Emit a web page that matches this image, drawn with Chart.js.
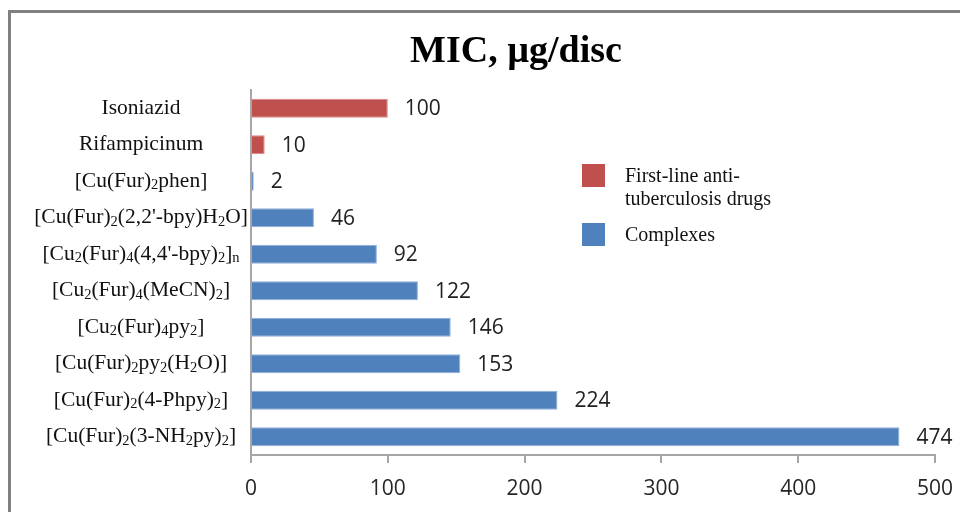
<!DOCTYPE html>
<html>
<head>
<meta charset="utf-8">
<script src="https://cdn.jsdelivr.net/npm/chart.js@4.4.1/dist/chart.umd.min.js"></script>
<style>
  html, body { margin: 0; padding: 0; background: #fff; }
  #wrap { width: 960px; height: 512px; position: relative; }
</style>
</head>
<body>
<div id="wrap"><canvas id="chart"></canvas></div>
<script>
// categories, top to bottom; _{..} marks a subscript
const categories = [
  'Isoniazid',
  'Rifampicinum',
  '[Cu(Fur)_{2}phen]',
  "[Cu(Fur)_{2}(2,2'-bpy)H_{2}O]",
  "[Cu_{2}(Fur)_{4}(4,4'-bpy)_{2}]_{n}",
  '[Cu_{2}(Fur)_{4}(MeCN)_{2}]',
  '[Cu_{2}(Fur)_{4}py_{2}]',
  '[Cu(Fur)_{2}py_{2}(H_{2}O)]',
  '[Cu(Fur)_{2}(4-Phpy)_{2}]',
  '[Cu(Fur)_{2}(3-NH_{2}py)_{2}]'
];
const drugValues = [100, 10, null, null, null, null, null, null, null, null];
const complexValues = [null, null, 2, 46, 92, 122, 146, 153, 224, 474];
const seriesNames = [['First-line anti-', 'tuberculosis drugs'], ['Complexes']];
const seriesColors = ['#C0504D', '#4F81BD'];
const xTicks = [0, 100, 200, 300, 400, 500];
const titleText = 'MIC, \u00b5g/disc';

const SERIF = '"Liberation Serif", "Times New Roman", serif';
const SANS = '"Open Sans", "DejaVu Sans", sans-serif';

// split "abc_{2}d" into [{t:'abc',sub:false},{t:'2',sub:true},{t:'d',sub:false}]
function parseLabel(s) {
  const parts = [];
  const re = /_\{([^}]*)\}/g;
  let last = 0, m;
  while ((m = re.exec(s)) !== null) {
    if (m.index > last) parts.push({ t: s.slice(last, m.index), sub: false });
    parts.push({ t: m[1], sub: true });
    last = re.lastIndex;
  }
  if (last < s.length) parts.push({ t: s.slice(last), sub: false });
  return parts;
}

const decorPlugin = {
  id: 'decor',
  beforeDraw(chart) {
    const ctx = chart.ctx;
    ctx.save();
    // outer frame (only left and top edges are visible)
    ctx.strokeStyle = '#808080';
    ctx.lineWidth = 3;
    ctx.beginPath();
    ctx.moveTo(9.5, 512);
    ctx.lineTo(9.5, 11.5);
    ctx.lineTo(960, 11.5);
    ctx.stroke();
    ctx.restore();
  },
  afterDraw(chart) {
    const ctx = chart.ctx;
    const yScale = chart.scales.y;
    ctx.save();

    // title
    ctx.fillStyle = '#000';
    ctx.font = 'bold 38px ' + SERIF;
    ctx.textAlign = 'center';
    ctx.textBaseline = 'alphabetic';
    ctx.fillText(titleText, 516, 62);

    // category labels with subscripts, centred in the label column
    const size = 21.5, subSize = 14.5;
    ctx.textAlign = 'left';
    ctx.textBaseline = 'middle';
    categories.forEach((lab, i) => {
      const parts = parseLabel(lab);
      let w = 0;
      parts.forEach(p => {
        ctx.font = (p.sub ? subSize : size) + 'px ' + SERIF;
        p.w = ctx.measureText(p.t).width;
        w += p.w;
      });
      const y = yScale.getPixelForTick(i);
      let x = 141 - w / 2;
      parts.forEach(p => {
        ctx.font = (p.sub ? subSize : size) + 'px ' + SERIF;
        ctx.fillStyle = '#111';
        ctx.fillText(p.t, x, p.sub ? y + 4 : y);
        x += p.w;
      });
    });

    // value labels at bar ends
    ctx.font = '21px ' + SANS;
    ctx.fillStyle = '#222';
    ctx.textAlign = 'left';
    ctx.textBaseline = 'middle';
    chart.data.datasets.forEach((ds, di) => {
      const meta = chart.getDatasetMeta(di);
      meta.data.forEach((bar, i) => {
        const v = ds.data[i];
        if (v === null || v === undefined) return;
        ctx.fillText(String(v), bar.x + 17, bar.y + 1);
      });
    });

    // legend
    const boxes = [164, 223];
    const lines = [[182, 205], [241]];
    seriesNames.forEach((name, i) => {
      ctx.fillStyle = seriesColors[i];
      ctx.fillRect(582, boxes[i], 23, 23);
      ctx.fillStyle = '#111';
      ctx.font = '20px ' + SERIF;
      ctx.textBaseline = 'alphabetic';
      name.forEach((ln, j) => ctx.fillText(ln, 625, lines[i][j]));
    });
    ctx.restore();
  }
};

new Chart(document.getElementById('chart'), {
  type: 'bar',
  data: {
    labels: categories,
    datasets: [
      {
        label: seriesNames[0].join(''),
        data: drugValues,
        backgroundColor: seriesColors[0],
        borderColor: '#D98885',
        borderWidth: 1
      },
      {
        label: seriesNames[1].join(''),
        data: complexValues,
        backgroundColor: seriesColors[1],
        borderColor: '#8EAEDB',
        borderWidth: 1
      }
    ]
  },
  options: {
    indexAxis: 'y',
    responsive: true,
    maintainAspectRatio: false,
    animation: false,
    categoryPercentage: 0.52,
    barPercentage: 1,
    layout: { padding: { top: 90, right: 25, bottom: 0, left: 0 } },
    scales: {
      x: {
        stacked: true,
        min: 0,
        max: 500,
        afterBuildTicks(scale) {
          scale.ticks = xTicks.map(v => ({ value: v }));
        },
        afterFit(scale) {
          scale.height = 57;
          scale.paddingLeft = 0;
          scale.paddingRight = 0;
        },
        grid: {
          drawOnChartArea: false,
          drawTicks: true,
          tickLength: 8,
          color: '#a6a6a6',
          lineWidth: 2
        },
        border: { display: true, color: '#a6a6a6', width: 2 },
        ticks: {
          color: '#262626',
          padding: 13,
          font: { family: SANS, size: 21 }
        }
      },
      y: {
        stacked: true,
        afterFit(scale) { scale.width = 251; },
        grid: { display: false },
        border: { display: true, color: '#a6a6a6', width: 2 },
        ticks: { display: false }
      }
    },
    plugins: {
      legend: { display: false },
      title: { display: false },
      tooltip: { enabled: false }
    }
  },
  plugins: [decorPlugin]
});
</script>
</body>
</html>
